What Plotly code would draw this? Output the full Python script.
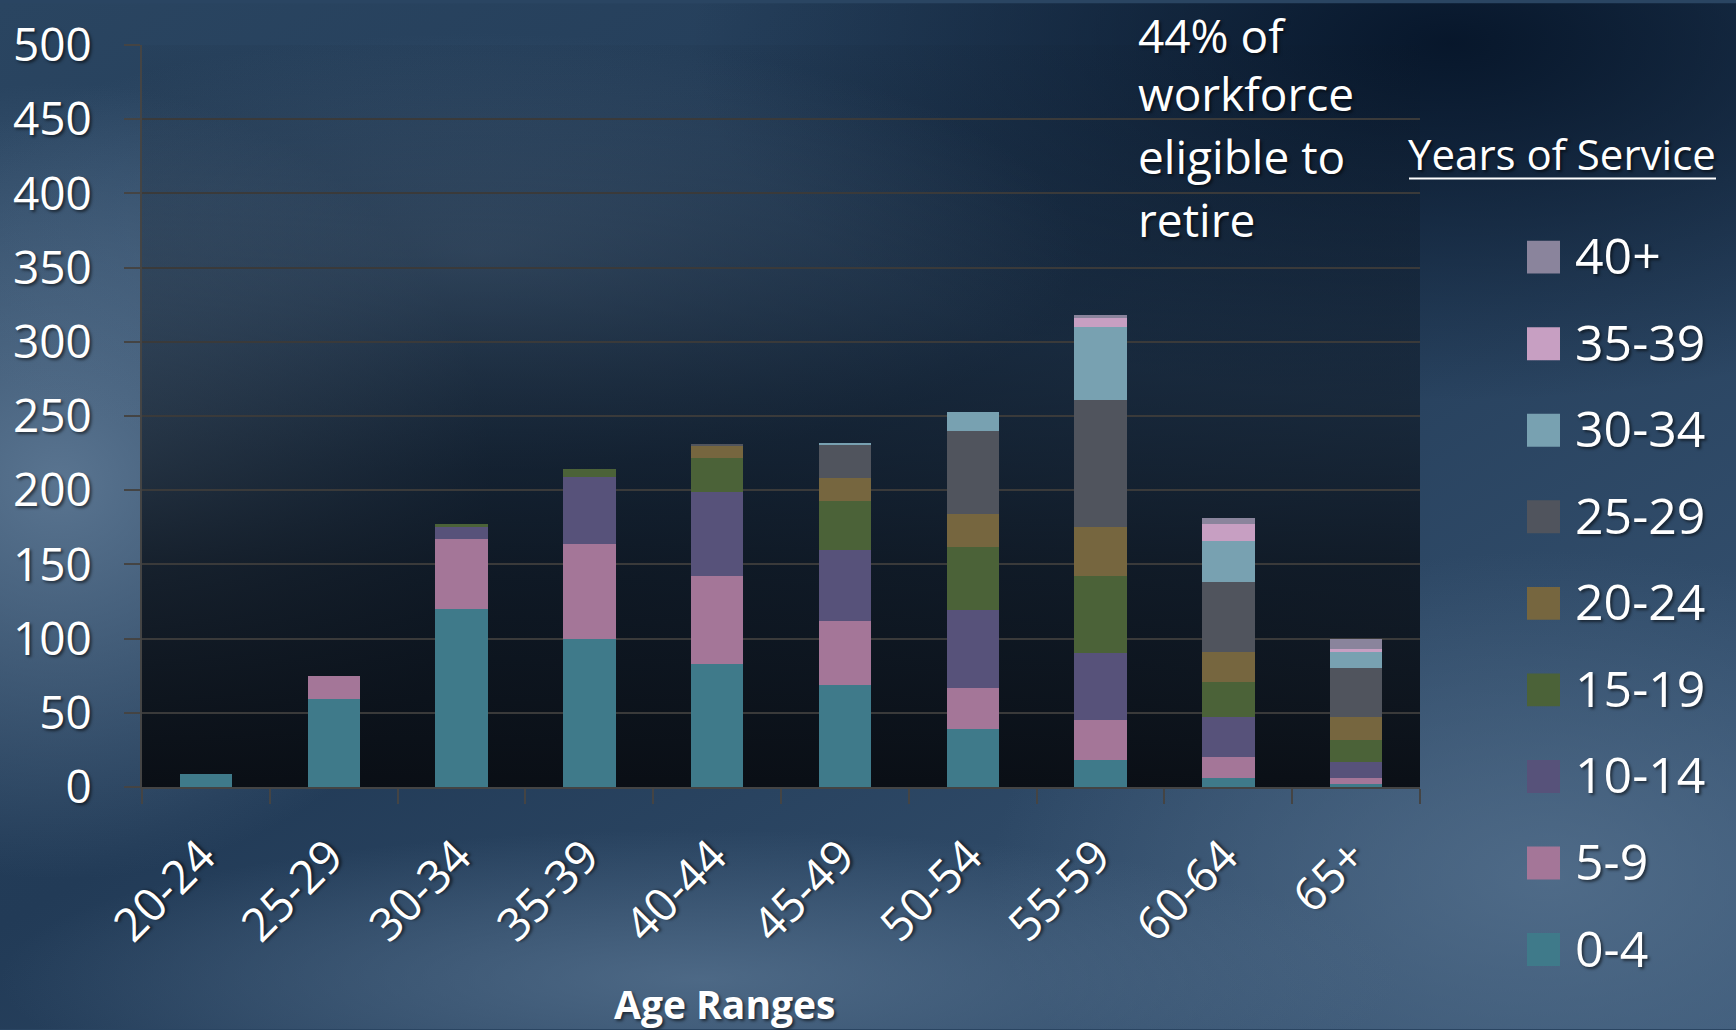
import base64
import plotly.graph_objects as go

# ---------------- data ----------------
age_ranges = ["20-24", "25-29", "30-34", "35-39", "40-44", "45-49", "50-54", "55-59", "60-64", "65+"]
service_groups = ["0-4", "5-9", "10-14", "15-19", "20-24", "25-29", "30-34", "35-39", "40+"]

yos_0_4   = [9, 59, 120, 100, 83, 69, 39, 18, 6, 2]
yos_5_9   = [0, 16, 47, 64, 59, 43, 28, 27, 14, 4]
yos_10_14 = [0, 0, 8, 45, 57, 48, 52, 45, 27, 11]
yos_15_19 = [0, 0, 2, 5, 23, 33, 43, 52, 24, 15]
yos_20_24 = [0, 0, 0, 0, 8, 15, 22, 33, 20, 15]
yos_25_29 = [0, 0, 0, 0, 1, 23, 56, 86, 47, 33]
yos_30_34 = [0, 0, 0, 0, 0, 1, 13, 49, 28, 11]
yos_35_39 = [0, 0, 0, 0, 0, 0, 0, 6, 11, 2]
yos_40p   = [0, 0, 0, 0, 0, 0, 0, 2, 4, 7]

series_values = [yos_0_4, yos_5_9, yos_10_14, yos_15_19, yos_20_24,
                 yos_25_29, yos_30_34, yos_35_39, yos_40p]
series_colors = ["#3f7a8a", "#a47698", "#57527a", "#4b6238", "#76663f",
                 "#50545d", "#78a1b1", "#c79fc2", "#8a849c"]

y_ticks = [0, 50, 100, 150, 200, 250, 300, 350, 400, 450, 500]
note_lines = ["44% of", "workforce", "eligible to", "retire"]
legend_title = "Years of Service"
x_title = "Age Ranges"

# ---------------- layout geometry (pixels) ----------------
W, H = 1736, 1030
L, R, T, B = 142, 1420, 42, 787
PW, PH = R - L, B - T

def px_x(p):
    return (p - L) / PW

def px_y(p):
    return (B - p) / PH

FONT = "Open Sans, Lato, DejaVu Sans, sans-serif"
SHADOW = "2px 2px 3px rgba(0,0,0,0.55)"

# ---------------- background (svg) ----------------
svg = f'''<svg xmlns="http://www.w3.org/2000/svg" width="{W}" height="{H}" viewBox="0 0 {W} {H}">
<defs>
<linearGradient id="base" x1="0" y1="0" x2="1" y2="1">
 <stop offset="0" stop-color="#2a4561"/>
 <stop offset="0.45" stop-color="#223b57"/>
 <stop offset="1" stop-color="#3b5877"/>
</linearGradient>
<radialGradient id="lightL" cx="0.5" cy="0.5" r="0.5">
 <stop offset="0" stop-color="#5f7a96" stop-opacity="0.9"/>
 <stop offset="1" stop-color="#5f7a96" stop-opacity="0"/>
</radialGradient>
<radialGradient id="darkTR" cx="0.5" cy="0.5" r="0.5">
 <stop offset="0" stop-color="#061529" stop-opacity="0.95"/>
 <stop offset="1" stop-color="#061529" stop-opacity="0"/>
</radialGradient>
<radialGradient id="lightBR" cx="0.5" cy="0.5" r="0.5">
 <stop offset="0" stop-color="#55718e" stop-opacity="0.8"/>
 <stop offset="1" stop-color="#55718e" stop-opacity="0"/>
</radialGradient>
<radialGradient id="haze" cx="0.5" cy="0.5" r="0.5">
 <stop offset="0" stop-color="#5a7592" stop-opacity="0.5"/>
 <stop offset="1" stop-color="#5a7592" stop-opacity="0"/>
</radialGradient>
<linearGradient id="plotg" x1="0" y1="0" x2="0" y2="1">
 <stop offset="0" stop-color="#0c1520" stop-opacity="0.05"/>
 <stop offset="0.35" stop-color="#0c1520" stop-opacity="0.4"/>
 <stop offset="0.7" stop-color="#0b121b" stop-opacity="0.82"/>
 <stop offset="1" stop-color="#090d13" stop-opacity="0.97"/>
</linearGradient>
</defs>
<rect width="{W}" height="{H}" fill="url(#base)"/>
<ellipse cx="60" cy="480" rx="430" ry="400" fill="url(#lightL)"/>
<ellipse cx="1450" cy="40" rx="760" ry="360" fill="url(#darkTR)"/>
<ellipse cx="1550" cy="880" rx="560" ry="330" fill="url(#lightBR)"/>
<ellipse cx="480" cy="250" rx="600" ry="220" fill="url(#haze)"/>
<ellipse cx="700" cy="980" rx="700" ry="150" fill="url(#lightBR)"/>
<rect x="{L}" y="{T}" width="{PW}" height="{PH}" fill="url(#plotg)"/>
</svg>'''
bg_src = "data:image/svg+xml;base64," + base64.b64encode(svg.encode()).decode()

# ---------------- figure ----------------
fig = go.Figure()
for name, vals, col in zip(service_groups, series_values, series_colors):
    fig.add_trace(go.Bar(
        x=age_ranges, y=vals, name=name, showlegend=False,
        marker=dict(color=col, line=dict(width=0)),
    ))

annotations = []
shapes = []

# note text, one line each
note_y = [32, 90, 153, 217]
for line, yy in zip(note_lines, note_y):
    annotations.append(dict(
        text=line, xref="paper", yref="paper",
        x=px_x(1136), y=px_y(yy), xanchor="left", yanchor="middle",
        align="left", showarrow=False,
        font=dict(size=46, family=FONT, color="white", shadow=SHADOW)))

# legend title (underlined)
annotations.append(dict(
    text=legend_title, xref="paper", yref="paper",
    x=px_x(1562), y=px_y(151), xanchor="center", yanchor="middle",
    showarrow=False,
    font=dict(size=42, family=FONT, color="white", shadow=SHADOW)))
shapes.append(dict(type="line", xref="paper", yref="paper",
                   x0=px_x(1409), x1=px_x(1716), y0=px_y(176), y1=px_y(176),
                   line=dict(color="white", width=2)))

# legend entries: 40+ at top down to 0-4
first_center, step, sw = 255, 86.9, 33
for i, (name, col) in enumerate(zip(service_groups[::-1], series_colors[::-1])):
    cy = first_center + i * step
    shapes.append(dict(type="rect", xref="paper", yref="paper",
                       x0=px_x(1527), x1=px_x(1527 + sw),
                       y0=px_y(cy - sw / 2), y1=px_y(cy + sw / 2),
                       fillcolor=col, line=dict(width=0)))
    annotations.append(dict(
        text=name, xref="paper", yref="paper",
        x=px_x(1573), y=px_y(cy - 2), xanchor="left", yanchor="middle",
        showarrow=False,
        font=dict(size=50, family=FONT, color="white", shadow=SHADOW)))

# x axis title
annotations.append(dict(
    text="<b>" + x_title + "</b>", xref="paper", yref="paper",
    x=px_x(725), y=px_y(1004), xanchor="center", yanchor="middle",
    showarrow=False,
    font=dict(size=39, family=FONT, color="white", shadow=SHADOW)))

fig.update_layout(
    width=W, height=H, autosize=False,
    margin=dict(l=L, r=W - R, t=T, b=H - B, pad=0),
    barmode="stack", bargap=0.59,
    paper_bgcolor="#2a4562", plot_bgcolor="rgba(0,0,0,0)",
    font=dict(family=FONT, color="white", size=46, shadow=SHADOW),
    showlegend=False,
    images=[dict(
        source=bg_src, xref="paper", yref="paper",
        x=px_x(0), y=px_y(0), sizex=W / PW, sizey=H / PH,
        xanchor="left", yanchor="top", sizing="stretch", layer="below",
    )],
    xaxis=dict(
        type="category", tickson="boundaries", ticks="outside", ticklen=15,
        tickcolor="#444444", tickwidth=2,
        showline=True, linecolor="#444444", linewidth=2,
        showgrid=False, tickangle=-45,
        tickfont=dict(size=46), ticklabelstandoff=22, ticklabelshift=-4,
    ),
    yaxis=dict(
        range=[0, 500], tickvals=y_ticks, ticks="outside", ticklen=16,
        tickcolor="#444444", tickwidth=2,
        showline=True, linecolor="#444444", linewidth=2,
        showgrid=True, gridcolor="#3a3a3a", gridwidth=2,
        zeroline=False, tickfont=dict(size=46), ticklabelstandoff=23,
    ),
    annotations=annotations,
    shapes=shapes,
)

fig.write_html("out.html", include_plotlyjs=True,
               config={"displayModeBar": False},
               post_script="document.body.style.margin='0';document.body.style.overflow='hidden';")
